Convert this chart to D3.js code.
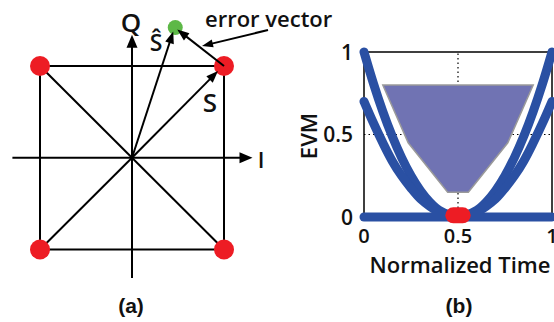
<!DOCTYPE html>
<html>
<head>
<meta charset="utf-8">
<script src="https://cdn.jsdelivr.net/npm/d3@7"></script>
<style>
  body { margin: 0; background: #fff; }
  svg text { font-family: "Open Sans", sans-serif; font-weight: 600; fill: #111; }
  svg text.cap { font-family: "Liberation Sans", Arial, sans-serif; font-weight: 700; }
</style>
</head>
<body>
<svg id="main" width="554" height="322"></svg>
<script>
// ---- panel (a): constellation ----
let constellation = [[-1, 1], [1, 1], [-1, -1], [1, -1]];
let received = [0.47, 1.42];       // green point (S hat)
let ideal = [1, 1];                // S
let axisI = [-1.3, 1.31];
let axisQ = [-1.31, 1.34];

// ---- panel (b): EVM vs normalized time ----
let timeX = [0, 0.05, 0.1, 0.15, 0.2, 0.25, 0.3, 0.35, 0.4, 0.45, 0.5,
             0.55, 0.6, 0.65, 0.7, 0.75, 0.8, 0.85, 0.9, 0.95, 1];
let evmOuter = [1.0, 0.81, 0.64, 0.49, 0.36, 0.25, 0.16, 0.09, 0.04, 0.015, 0.01,
                0.015, 0.04, 0.09, 0.16, 0.25, 0.36, 0.49, 0.64, 0.81, 1.0];
let evmInner = [0.70, 0.57, 0.45, 0.34, 0.25, 0.175, 0.11, 0.065, 0.03, 0.012, 0.01,
                0.012, 0.03, 0.065, 0.11, 0.175, 0.25, 0.34, 0.45, 0.57, 0.70];
let evmFloor = [[0, 0], [1, 0]];
let eyeRegion = [[0.1, 0.8], [0.9, 0.8], [0.765, 0.45], [0.555, 0.15], [0.445, 0.15], [0.235, 0.45]];
let samplePoint = [[0.475, 0.01], [0.525, 0.01]];
let xTicks = [0, 0.5, 1];
let yTicks = [0, 0.5, 1];

const svg = d3.select('#main');

function arrow(g, x1, y1, x2, y2, len, wid) {
  let dx = x2 - x1, dy = y2 - y1;
  let d = Math.sqrt(dx * dx + dy * dy);
  let ux = dx / d, uy = dy / d;
  let bx = x2 - ux * len, by = y2 - uy * len;
  g.append('line').attr('x1', x1).attr('y1', y1).attr('x2', bx + ux * 2).attr('y2', by + uy * 2)
    .attr('stroke', '#000').attr('stroke-width', 2);
  g.append('path')
    .attr('d', `M${x2},${y2}L${bx - uy * wid / 2},${by + ux * wid / 2}L${bx + uy * wid / 2},${by - ux * wid / 2}Z`)
    .attr('fill', '#000');
}

// panel (a)
let iS = d3.scaleLinear().domain([-1, 1]).range([40, 224]);
let qS = d3.scaleLinear().domain([-1, 1]).range([249.5, 66]);
let ga = svg.append('g');

// square
ga.append('path')
  .attr('d', d3.line()([[iS(-1), qS(1)], [iS(1), qS(1)], [iS(1), qS(-1)], [iS(-1), qS(-1)]]) + 'Z')
  .attr('fill', 'none').attr('stroke', '#000').attr('stroke-width', 2);
// diagonals
ga.append('line').attr('x1', iS(-1)).attr('y1', qS(1)).attr('x2', iS(1)).attr('y2', qS(-1))
  .attr('stroke', '#000').attr('stroke-width', 2);
ga.append('line').attr('x1', iS(-1)).attr('y1', qS(-1)).attr('x2', iS(0)).attr('y2', qS(0))
  .attr('stroke', '#000').attr('stroke-width', 2);
// axes
arrow(ga, iS(axisI[0]), qS(0), iS(axisI[1]), qS(0), 13, 11);
arrow(ga, iS(0), qS(axisQ[0]), iS(0), qS(axisQ[1]), 13, 11);

// points
ga.selectAll('circle.c').data(constellation).join('circle')
  .attr('cx', d => iS(d[0])).attr('cy', d => qS(d[1])).attr('r', 10)
  .attr('fill', '#ed1c24');
ga.append('circle').attr('cx', iS(received[0])).attr('cy', qS(received[1])).attr('r', 7.5)
  .attr('fill', '#5db847');

// vectors
arrow(ga, iS(0), qS(0), iS(ideal[0]) - 6, qS(ideal[1]) + 5, 12, 9);
arrow(ga, iS(0), qS(0), iS(received[0]) - 2, qS(received[1]) + 4, 12, 9);
arrow(ga, iS(ideal[0]), qS(ideal[1]), iS(received[0]) + 2, qS(received[1]) + 2, 12, 9);
// annotation arrow
arrow(ga, 268, 30, 202, 46, 11, 8);

ga.append('text').attr('x', iS(0) - 1).attr('y', 32).attr('text-anchor', 'middle')
  .style('font-size', '26px').text('Q');
ga.append('text').attr('x', 261).attr('y', 168).attr('text-anchor', 'middle')
  .style('font-size', '22px').text('I');
ga.append('text').attr('x', 210).attr('y', 112).attr('text-anchor', 'middle')
  .style('font-size', '26px').text('S');
ga.append('text').attr('x', 156).attr('y', 51).attr('text-anchor', 'middle')
  .style('font-size', '23px').text('Ŝ');
ga.append('text').attr('x', 205).attr('y', 27)
  .style('font-size', '22px').text('error vector');
ga.append('text').attr('class', 'cap').attr('x', 131).attr('y', 313).attr('text-anchor', 'middle')
  .style('font-size', '21px').text('(a)');

// panel (b)
let x = d3.scaleLinear().domain([0, 1]).range([364, 552]);
let y = d3.scaleLinear().domain([0, 1]).range([217, 52]);
let gb = svg.append('g');
let blue = '#2a50a3';

// frame
gb.append('rect').attr('x', x(0)).attr('y', y(1)).attr('width', x(1) - x(0)).attr('height', y(0) - y(1))
  .attr('fill', 'none').attr('stroke', '#000').attr('stroke-width', 1.5);
// grid
gb.append('line').attr('x1', x(0.5)).attr('x2', x(0.5)).attr('y1', y(0)).attr('y2', y(1))
  .attr('stroke', '#000').attr('stroke-width', 1.2).attr('stroke-dasharray', '1.5,3');
gb.append('line').attr('x1', x(0)).attr('x2', x(1)).attr('y1', y(0.5)).attr('y2', y(0.5))
  .attr('stroke', '#000').attr('stroke-width', 1.2).attr('stroke-dasharray', '1.5,3');

// shaded region
gb.append('path').attr('d', d3.line().x(d => x(d[0])).y(d => y(d[1]))(eyeRegion) + 'Z')
  .attr('fill', '#7073b3').attr('stroke', '#9a9a9a').attr('stroke-width', 1.5);

// curves
let line = d3.line().x(d => x(d[0])).y(d => y(d[1])).curve(d3.curveCatmullRom);
[evmOuter, evmInner].forEach(vals => {
  gb.append('path').attr('d', line(timeX.map((t, i) => [t, vals[i]])))
    .attr('fill', 'none').attr('stroke', blue).attr('stroke-width', 9)
    .attr('stroke-linecap', 'round').attr('stroke-linejoin', 'round');
});
gb.append('path').attr('d', d3.line().x(d => x(d[0])).y(d => y(d[1]))(evmFloor))
  .attr('fill', 'none').attr('stroke', blue).attr('stroke-width', 9).attr('stroke-linecap', 'round');
gb.append('path').attr('d', d3.line().x(d => x(d[0])).y(d => y(d[1]))(samplePoint))
  .attr('fill', 'none').attr('stroke', '#ed1c24').attr('stroke-width', 16).attr('stroke-linecap', 'round');

// tick labels
gb.selectAll('text.yt').data(yTicks).join('text').attr('class', 'yt')
  .attr('x', 353).attr('y', d => y(d) + 7.5).attr('text-anchor', 'end')
  .style('font-size', '21px').text(d => d3.format('~g')(d));
gb.selectAll('text.xt').data(xTicks).join('text').attr('class', 'xt')
  .attr('x', d => x(d)).attr('y', 243).attr('text-anchor', 'middle')
  .style('font-size', '20px').text(d => d3.format('~g')(d));
gb.append('text').attr('x', 460).attr('y', 273).attr('text-anchor', 'middle')
  .style('font-size', '22px').text('Normalized Time');
gb.append('text').attr('transform', 'translate(317,136) rotate(-90)').attr('text-anchor', 'middle')
  .style('font-size', '22px').text('EVM');
gb.append('text').attr('class', 'cap').attr('x', 459).attr('y', 313).attr('text-anchor', 'middle')
  .style('font-size', '21px').text('(b)');
</script>
</body>
</html>
